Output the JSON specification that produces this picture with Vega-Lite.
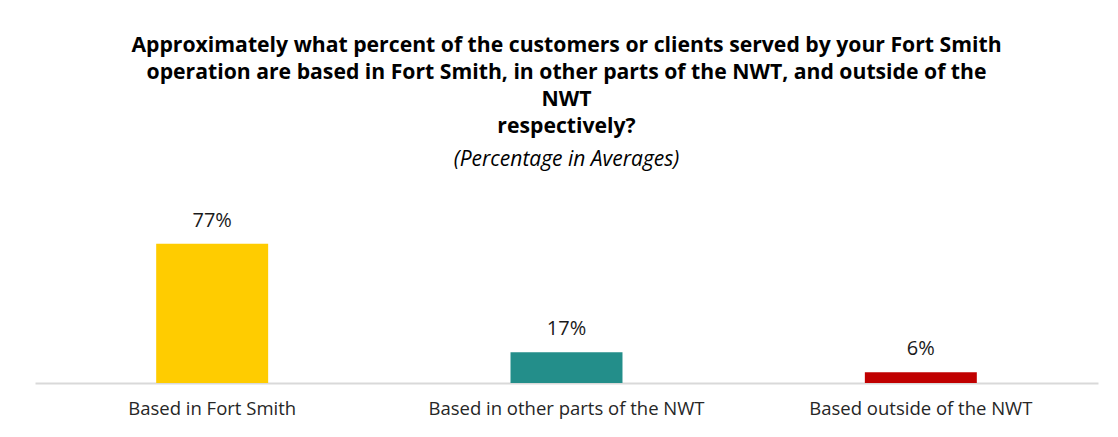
{
  "$schema": "https://vega.github.io/schema/vega-lite/v6.json",
  "width": 1063,
  "height": 181,
  "autosize": {"type": "none"},
  "padding": {"left": 35, "top": 202, "right": 20, "bottom": 54},
  "background": "white",
  "config": {"view": {"stroke": null}, "font": "Open Sans"},
  "title": {
    "text": ["Approximately what percent of the customers or clients served by your Fort Smith", "operation are based in Fort Smith, in other parts of the NWT, and outside of the", "NWT", "respectively?"],
    "subtitle": "(Percentage in Averages)",
    "anchor": "middle",
    "font": "Open Sans",
    "fontSize": 21.2,
    "fontWeight": "bold",
    "lineHeight": 27,
    "color": "#000000",
    "subtitleFont": "Open Sans",
    "subtitleFontSize": 21,
    "subtitleFontStyle": "italic",
    "subtitleColor": "#000000",
    "subtitlePadding": 12,
    "offset": 30,
    "dy": -2
  },
  "data": {
    "values": [
      {"category": "Based in Fort Smith", "value": 77, "label": "77%"},
      {"category": "Based in other parts of the NWT", "value": 17, "label": "17%"},
      {"category": "Based outside of the NWT", "value": 6, "label": "6%"}
    ]
  },
  "encoding": {
    "x": {
      "field": "category",
      "type": "nominal",
      "sort": null,
      "scale": {"paddingInner": 0.684, "paddingOuter": 0.342},
      "axis": {
        "title": null,
        "labelAngle": 0,
        "labelFontSize": 18.5,
        "labelColor": "#262626",
        "labelPadding": 16,
        "labelLimit": 400,
        "ticks": false,
        "domainColor": "#d9d9d9",
        "domainWidth": 2
      }
    },
    "y": {
      "field": "value",
      "type": "quantitative",
      "scale": {"domain": [0, 100]},
      "axis": null
    }
  },
  "layer": [
    {
      "mark": {"type": "bar"},
      "encoding": {
        "color": {
          "field": "category",
          "type": "nominal",
          "sort": null,
          "scale": {"range": ["#FFCC00", "#238E8A", "#C00000"]},
          "legend": null
        }
      }
    },
    {
      "mark": {"type": "text", "dy": -23, "fontSize": 20, "color": "#1a1a1a", "font": "Open Sans"},
      "encoding": {"text": {"field": "label"}}
    }
  ]
}
